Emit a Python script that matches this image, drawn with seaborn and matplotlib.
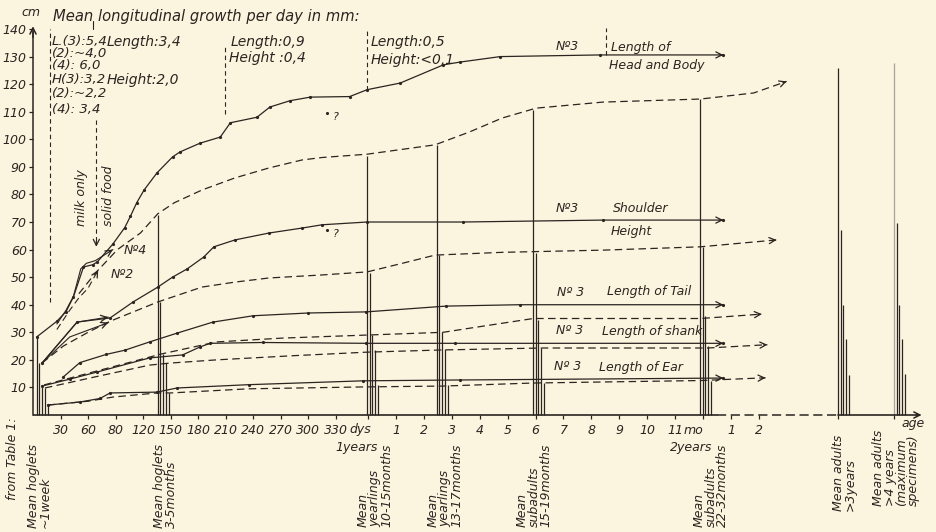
import numpy as np
import matplotlib
matplotlib.use("Agg")
import matplotlib.pyplot as plt
import seaborn as sns

# ---------------------------------------------------------------------------
# 1. Data  (x = age in days, y = cm)
#    Age axis runs continuously to ~2 years, then it is broken: the two
#    adult groups sit at nominal positions AD3 / AD4.
# ---------------------------------------------------------------------------
AD3, AD4 = 877, 938

# Individual No 3 (solid with dots)
hb3_x = [4, 26, 36, 44, 55, 65, 70, 87, 100, 106, 113, 121, 135, 152, 160, 182,
         204, 215, 244, 258, 280, 302, 345, 364, 400, 447, 465, 509, 618, 752]
hb3_y = [28.3, 34, 37.5, 42.8, 53.7, 54.5, 55.5, 62, 68, 72, 77, 81.6, 87.8, 93.6,
         95.4, 98.6, 100.8, 106, 108, 111.7, 114, 115.3, 115.5, 118, 120.4, 127,
         128, 130, 130.6, 130.6]
sh3_x = [10, 48, 84, 109, 136, 152, 168, 186, 197, 220, 257, 293, 315, 364, 468, 621, 752]
sh3_y = [18.9, 33.7, 35.2, 41, 46.4, 50, 53, 57.3, 61, 63.5, 66, 67.8, 69, 70, 70, 70.7, 70.7]
tail3_x = [33, 51, 80, 100, 127, 157, 196, 240, 300, 363, 450, 530, 752]
tail3_y = [13.8, 19, 22, 23.5, 26.5, 29.7, 33.7, 36, 37, 37.4, 39.5, 40, 40]
shank3_x = [10, 40, 70, 127, 163, 182, 193, 250, 363, 460, 752]
shank3_y = [10.5, 13, 15.6, 20.7, 21.8, 24.7, 26, 26.3, 26, 26, 26]
ear3_x = [16, 51, 73, 84, 135, 157, 235, 360, 465, 752]
ear3_y = [3.6, 4.7, 6, 8, 8.3, 9.8, 11, 12.4, 12.7, 13.4]

# Mean curves (dashed)
hbm_x = [50, 68, 92, 117, 136, 154, 184, 220, 257, 293, 315, 364, 438, 475, 511,
         548, 621, 727, 785, 821]
hbm_y = [44, 51.5, 60, 66, 73, 77, 81.6, 86, 89.6, 92.5, 93.4, 94.6, 98, 102.6,
         107.7, 111.3, 113.5, 114.6, 116.8, 121]
shm_x = [10, 33, 60, 84, 110, 136, 184, 220, 257, 315, 364, 402, 438, 511, 621, 727, 810]
shm_y = [18.9, 25, 30, 34, 37.5, 41, 46.4, 48.2, 49.7, 50.8, 51.9, 55, 58, 59, 59.8, 61, 63.5]
tailm_x = [12, 70, 127, 138, 200, 272, 364, 447, 476, 545, 727, 794]
tailm_y = [10.9, 16, 21, 22, 26.5, 27.9, 29, 30, 31.5, 35, 35, 36.6]
shankm_x = [13, 70, 127, 148, 200, 283, 364, 447, 555, 735, 800]
shankm_y = [9.8, 14, 18.1, 18.8, 20, 21.5, 22.8, 23.6, 24.3, 24.3, 25.5]
earm_x = [16, 60, 87, 135, 150, 235, 364, 447, 545, 727, 798]
earm_y = [3.6, 5, 6.5, 8, 8, 9.5, 10.2, 10.5, 11.6, 12.5, 13.5]

# Early tracks of No 4 and No 2
no4_hb_x = [26, 36, 44, 52, 58, 68, 87]
no4_hb_y = [33, 38, 43, 53, 55, 56, 60]
no2_hb_x = [26, 40, 50, 60, 71]
no2_hb_y = [31, 38, 42.5, 46, 52.6]
no4_sh_x = [10, 48, 82]
no4_sh_y = [18.9, 33.7, 35.5]
no2_sh_x = [10, 40, 82]
no2_sh_y = [18.9, 28.3, 33.5]

# Doubtful points "?"
q_x = [320, 320]
q_y = [109.5, 67]

# Group means from Table 1 (vertical bars)
group_x = [4, 136, 364, 440, 545, 727, AD3, AD4]
group_lab = [["Mean hoglets", "~1week"], ["Mean hoglets", "3-5months"],
             ["Mean", "yearlings", "10-15months"], ["Mean", "yearlings", "13-17months"],
             ["Mean", "subadults", "15-19months"], ["Mean", "subadults", "22-32months"],
             ["Mean adults", ">3years"], ["Mean adults", ">4 years", "(maximum", "specimens)"]]
bar_hb = [28.3, 72.5, 94.0, 98.0, 110.6, 114.6, 125.8, 127.6]
bar_sh = [18.9, 41.0, 51.5, 58.0, 58.7, 61.0, 67.0, 69.6]
bar_tail = [10.9, 22.0, 29.0, 30.0, 34.5, 36.0, 40.0, 40.0]
bar_shank = [9.8, 18.8, 23.6, 24.0, 24.3, 25.0, 27.5, 27.5]
bar_ear = [3.6, 8.0, 11.0, 11.0, 11.6, 12.5, 14.5, 14.8]

cm_ticks = [10, 20, 30, 40, 50, 60, 70, 80, 90, 100, 110, 120, 130, 140]
day_ticks = [30, 60, 90, 120, 150, 180, 210, 240, 270, 300, 330]
day_labels = ["30", "60", "80", "120", "150", "180", "210", "240", "270", "300", "330"]
month_nums = [1, 2, 3, 4, 5, 6, 7, 8, 9, 10, 11]
month3_nums = [1, 2]

# ---------------------------------------------------------------------------
# 2. Style / canvas
# ---------------------------------------------------------------------------
BG = "#FBF4DE"
INK = "#2a2521"
W, H = 936, 532
X0, Y0 = 33, 415            # pixel of the origin
PX_DAY, PX_CM = 0.918, 2.757
YPAD = 2.0                  # cm of room below the age axis inside the axes

sns.set_theme(style="white", rc={"axes.facecolor": BG, "figure.facecolor": BG})
plt.rcParams["font.family"] = ["DejaVu Sans"]
plt.rcParams["font.style"] = "italic"

fig = plt.figure(figsize=(W / 100, H / 100), dpi=100)
pad_px = YPAD * PX_CM
ax = fig.add_axes([X0 / W, (H - Y0 - pad_px) / H, (W - X0) / W, (Y0 + pad_px) / H])
ax.set_xlim(0, (W - X0) / PX_DAY)
ax.set_ylim(-YPAD, Y0 / PX_CM)
ax.set_facecolor("none")
for s in ["top", "right", "bottom"]:
    ax.spines[s].set_visible(False)
ax.spines["left"].set_color(INK)
ax.spines["left"].set_linewidth(1.1)
ax.spines["left"].set_position(("data", 0))
ax.spines["left"].set_bounds(0, 139)

ARW = dict(arrowstyle="->", color=INK, lw=0.9, shrinkA=0, shrinkB=0, mutation_scale=11)
DASH = (0, (6, 3.5))


def ptext(x, y, s, **kw):
    """Text placed by pixel position of the reference."""
    kw.setdefault("color", INK)
    kw.setdefault("fontsize", 9)
    kw.setdefault("va", "center")
    fig.text(x / W, 1 - y / H, s, **kw)


def head(xs, ys):
    dxp = (xs[-1] - xs[-2]) * PX_DAY
    dyp = (ys[-1] - ys[-2]) * PX_CM
    n = np.hypot(dxp, dyp)
    ax.annotate("", xy=(xs[-1], ys[-1]),
                xytext=(xs[-1] - 4 * dxp / n / PX_DAY, ys[-1] - 4 * dyp / n / PX_CM),
                arrowprops=ARW, annotation_clip=False)


def track(xs, ys, dashed=False, dots=False, arrow=False, lw=0.9):
    sns.lineplot(x=xs, y=ys, ax=ax, color=INK, lw=lw, sort=False, estimator=None,
                 linestyle=DASH if dashed else "-",
                 marker="o" if dots else None, markersize=2.3,
                 markeredgewidth=0, markerfacecolor=INK)
    if arrow:
        head(xs, ys)


# ---------------------------------------------------------------------------
# 3. Bars (means from Table 1)
# ---------------------------------------------------------------------------
BAR_OFF = [0, 2.7, 5.4, 8.7, 12]
for k, vals in enumerate([bar_hb, bar_sh, bar_tail, bar_shank, bar_ear]):
    xs = [gx + BAR_OFF[k] for gx in group_x]
    cols = [INK] * len(xs)
    if k == 0:
        cols[-1] = "#a8a39a"
    ax.vlines(xs, 0, vals, colors=cols, lw=0.9)

# ---------------------------------------------------------------------------
# 4. Growth curves
# ---------------------------------------------------------------------------
for cx, cy in [(hb3_x, hb3_y), (sh3_x, sh3_y), (tail3_x, tail3_y),
               (shank3_x, shank3_y), (ear3_x, ear3_y)]:
    track(cx, cy, dots=True, arrow=True)
for cx, cy in [(hbm_x, hbm_y), (shm_x, shm_y), (tailm_x, tailm_y),
               (shankm_x, shankm_y), (earm_x, earm_y)]:
    track(cx, cy, dashed=True, arrow=True)

track(no4_hb_x, no4_hb_y, arrow=True, lw=0.8)
track(no2_hb_x, no2_hb_y, dashed=True, arrow=True, lw=0.8)
track(no4_sh_x, no4_sh_y, arrow=True, lw=0.8)
track(no2_sh_x, no2_sh_y, arrow=True, lw=0.8)

sns.scatterplot(x=q_x, y=q_y, ax=ax, color=INK, s=5, linewidth=0)
for qy in q_y:
    ax.text(326, qy - 1.5, "?", color=INK, fontsize=8, va="center")

# dashed separators of the growth-rate notes
for xd, y0, y1 in [(18.5, 41, 140), (209, 109, 134), (364, 118, 140.5), (624, 130.6, 140.5)]:
    ax.plot([xd, xd], [y0, y1], color=INK, lw=0.8, ls=(0, (4, 3)))
ax.plot([65, 65], [140, 143], color=INK, lw=0.8)
ax.plot([69, 69], [63, 107], color=INK, lw=0.8, ls=(0, (4, 3)))
ax.annotate("", xy=(69, 61), xytext=(69, 63), arrowprops=ARW)

# ---------------------------------------------------------------------------
# 5. Axes (arrow heads, broken part of the age axis)
# ---------------------------------------------------------------------------
ax.annotate("", xy=(0, 141), xytext=(0, 137), arrowprops=dict(ARW, lw=1.1),
            annotation_clip=False)
ax.plot([0, 745], [0, 0], color=INK, lw=1.2, zorder=6)
ax.plot([745, AD3], [0, 0], color=INK, lw=1.1, ls=(0, (6, 3)), zorder=6)
ax.plot([AD3, 964], [0, 0], color=INK, lw=1.2, zorder=6)
ax.annotate("", xy=(968, 0), xytext=(962, 0), arrowprops=dict(ARW, lw=1.1),
            annotation_clip=False)

ax.set_yticks(cm_ticks)
ax.set_yticklabels([str(v) for v in cm_ticks])
ax.tick_params(axis="y", left=True, direction="out", length=3, width=0.9,
               colors=INK, labelsize=9, pad=1.5)

m2 = [365 + 30.4 * m for m in month_nums]
m3 = [730 + 30.4 * m for m in month3_nums]
xt = day_ticks + [365] + m2 + [730] + m3 + [AD3, AD4]
xl = day_labels + [""] + [str(m) for m in month_nums] + [""] + \
     [str(m) for m in month3_nums] + ["", ""]
ax.set_xticks(xt)
ax.set_xticklabels(xl)
# ticks hang from the age axis (y = 0), not from the axes frame
ax.tick_params(axis="x", bottom=False, labelbottom=False)
ax.vlines(xt, -1.3, 0, color=INK, lw=0.9)
for xv, lab in zip(xt, xl):
    if lab:
        ax.text(xv, -5.5, lab, ha="center", va="center", fontsize=9, color=INK,
                clip_on=False)

# ---------------------------------------------------------------------------
# 6. Texts
# ---------------------------------------------------------------------------
ptext(31, 12, "cm", ha="center")
ptext(53, 17, "Mean longitudinal growth per day in mm:", fontsize=10.6)
for yy, s in zip([42, 54, 66, 80, 94, 109],
                 ["L.(3):5,4", "(2):~4,0", "(4): 6,0", "H(3):3,2", "(2):~2,2", "(4): 3,4"]):
    ptext(52, yy, s, fontsize=9.5)
ptext(107, 42, "Length:3,4", fontsize=10)
ptext(107, 80, "Height:2,0", fontsize=10)
ptext(231, 42, "Length:0,9", fontsize=10)
ptext(229, 58, "Height :0,4", fontsize=10)
ptext(371, 42, "Length:0,5", fontsize=10)
ptext(371, 60, "Height:<0,1", fontsize=10)

ptext(556, 47, "Nº3")
ptext(611, 47, "Length of")
ptext(609, 66, "Head and Body")
ptext(556, 209, "Nº3")
ptext(613, 209, "Shoulder")
ptext(611, 231, "Height")
ptext(557, 292, "Nº 3")
ptext(607, 292, "Length of Tail")
ptext(556, 331, "Nº 3")
ptext(602, 331, "Length of shank")
ptext(554, 367, "Nº 3")
ptext(599, 367, "Length of Ear")
ptext(124, 250, "Nº4")
ptext(111, 275, "Nº2")

ptext(82, 198, "milk only", rotation=90, ha="center")
ptext(108, 196, "solid food", rotation=90, ha="center")

ptext(349, 430, "dys", ha="left")
ptext(684, 430, "mo", ha="left")
ptext(378, 447, "1years", ha="right")
ptext(712, 447, "2years", ha="right")
ptext(913, 423, "age", ha="center")

# rotated labels below the axis, one text per printed line
ptext(6, 500, "from Table 1:", rotation=90, ha="left", va="bottom")
lab_px = [27, 153, 357, 427, 516, 693, 832, 872]
lab_bot = [528, 528, 527, 527, 527, 527, 511, 506]
for xp, yb, lines in zip(lab_px, lab_bot, group_lab):
    for j, s in enumerate(lines):
        ptext(xp + 11.7 * j, yb, s, rotation=90, ha="left", va="bottom")

fig.savefig("out.png", dpi=100, facecolor=BG)
